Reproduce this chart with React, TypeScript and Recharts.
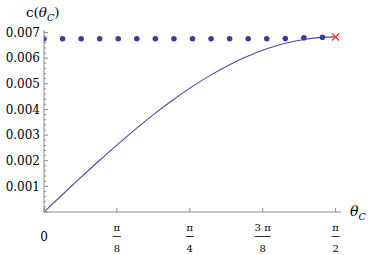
import { ComposedChart, Line, Scatter, XAxis, YAxis } from 'recharts';

// sampled angles (rad) along the curve, last one is pi/2
const curveThetas = [0, 0.1, 0.2, 0.3, 0.4, 0.5, 0.6, 0.7, 0.8, 0.9, 1.0, 1.1, 1.2, 1.3, 1.4, 1.5, 1.5708];
const curveValues = [
  0, 0.000682, 0.001357, 0.002018, 0.00266, 0.003274, 0.003857, 0.0044, 0.0049, 0.00535, 0.005747,
  0.006087, 0.006366, 0.006582, 0.006731, 0.006813, 0.00683,
];

const dotThetas = [0, 0.1, 0.2, 0.3, 0.4, 0.5, 0.6, 0.7, 0.8, 0.9, 1.0, 1.1, 1.2, 1.3, 1.4, 1.5];
const dotValues = [
  0.00676, 0.00676, 0.00676, 0.00676, 0.00676, 0.00676, 0.00676, 0.00676, 0.00676, 0.00676, 0.00676,
  0.00676, 0.00676, 0.00677, 0.0068, 0.00682,
];

const crossThetas = [1.5708];
const crossValues = [0.00683];

const xTicks = [0, Math.PI / 8, Math.PI / 4, (3 * Math.PI) / 8, Math.PI / 2];
const xTickNum = ['0', 'π', 'π', '3 π', 'π'];
const xTickDen = ['', '8', '4', '8', '2'];

const yMajor = [0.001, 0.002, 0.003, 0.004, 0.005, 0.006, 0.007];
const yLabels = ['0.001', '0.002', '0.003', '0.004', '0.005', '0.006', '0.007'];

const yTicks: number[] = [];
for (let i = 0; i <= 35; i++) yTicks.push(+(i * 0.0002).toFixed(4));

const curve = curveThetas.map((t, i) => ({ t, c: curveValues[i] }));
const dots = dotThetas.map((t, i) => ({ t, c: dotValues[i] }));
const cross = crossThetas.map((t, i) => ({ t, c: crossValues[i] }));

const BLUE = '#3d3d99';
const AXIS = '#8a8a8a';
const SERIF = 'DejaVu Serif';

function XTick(props: any) {
  const { x, y, index } = props;
  const num = xTickNum[index];
  const den = xTickDen[index];
  return (
    <g>
      <line x1={x} x2={x} y1={y} y2={y - 4} stroke={AXIS} />
      {den === '' ? (
        <text x={x} y={y + 28.5} textAnchor="middle" fontSize={12} style={{ fontFamily: SERIF }} fill="#000">
          {num}
        </text>
      ) : (
        <g>
          <text x={x} y={y + 19} textAnchor="middle" fontSize={10} style={{ fontFamily: SERIF }} fill="#000">
            {num}
          </text>
          <line
            x1={x - (num.length > 1 ? 8 : 4)}
            x2={x + (num.length > 1 ? 8 : 4)}
            y1={y + 24.5}
            y2={y + 24.5}
            stroke="#333"
          />
          <text x={x} y={y + 40} textAnchor="middle" fontSize={10} style={{ fontFamily: SERIF }} fill="#000">
            {den}
          </text>
        </g>
      )}
    </g>
  );
}

function YTick(props: any) {
  const { x, y, payload } = props;
  const v = payload.value;
  const k = yMajor.findIndex((m) => Math.abs(m - v) < 1e-9);
  const major = k >= 0 || Math.abs(v) < 1e-9;
  return (
    <g>
      <line x1={x} x2={x + (major ? 4 : 2)} y1={y} y2={y} stroke={AXIS} />
      {k >= 0 && (
        <text x={x - 4} y={y + 4.3} textAnchor="end" fontSize={12} style={{ fontFamily: SERIF }} fill="#000">
          {yLabels[k]}
        </text>
      )}
    </g>
  );
}

function CrossShape(props: any) {
  const { cx, cy } = props;
  const r = 3.5;
  return (
    <g stroke="#ff3333" strokeWidth={1.3}>
      <line x1={cx - r} x2={cx + r} y1={cy - r} y2={cy + r} />
      <line x1={cx - r} x2={cx + r} y1={cy + r} y2={cy - r} />
    </g>
  );
}

function DotShape(props: any) {
  const { cx, cy } = props;
  return <circle cx={cx} cy={cy} r={2.8} fill={BLUE} />;
}

export default function App() {
  return (
    <div style={{ position: 'absolute', left: 0, top: 0, width: 373, height: 255, background: '#fff' }}>
      <ComposedChart width={373} height={255} margin={{ top: 30, right: 32, bottom: 0, left: 0 }}>
        <XAxis
          type="number"
          dataKey="t"
          domain={[0, 1.6]}
          ticks={xTicks}
          interval={0}
          tick={<XTick />}
          tickLine={false}
          tickSize={0}
          tickMargin={0}
          height={43}
          axisLine={{ stroke: AXIS }}
          allowDataOverflow
        />
        <YAxis
          type="number"
          dataKey="c"
          domain={[0, 0.0071]}
          ticks={yTicks}
          interval={0}
          tick={<YTick />}
          tickLine={false}
          tickSize={0}
          tickMargin={0}
          width={44}
          axisLine={{ stroke: AXIS }}
          allowDataOverflow
        />
        <Line
          data={curve}
          dataKey="c"
          type="monotone"
          stroke="#4a4aa8"
          strokeWidth={1.1}
          dot={false}
          isAnimationActive={false}
        />
        <Scatter data={dots} dataKey="c" shape={<DotShape />} isAnimationActive={false} />
        <Scatter data={cross} dataKey="c" shape={<CrossShape />} isAnimationActive={false} />
      </ComposedChart>
      <div
        style={{
          position: 'absolute',
          left: 26,
          top: 3,
          fontFamily: SERIF,
          fontSize: 13.5,
          color: '#000',
          lineHeight: '18px',
          whiteSpace: 'nowrap',
        }}
      >
        c(<i>θ</i>
        <sub style={{ fontSize: 9.5, fontStyle: 'italic' }}>C</sub>)
      </div>
      <div
        style={{
          position: 'absolute',
          left: 350,
          top: 202,
          fontFamily: SERIF,
          fontSize: 14,
          color: '#000',
          lineHeight: '18px',
          whiteSpace: 'nowrap',
        }}
      >
        <i>θ</i>
        <sub style={{ fontSize: 9.5, fontStyle: 'italic' }}>C</sub>
      </div>
    </div>
  );
}
